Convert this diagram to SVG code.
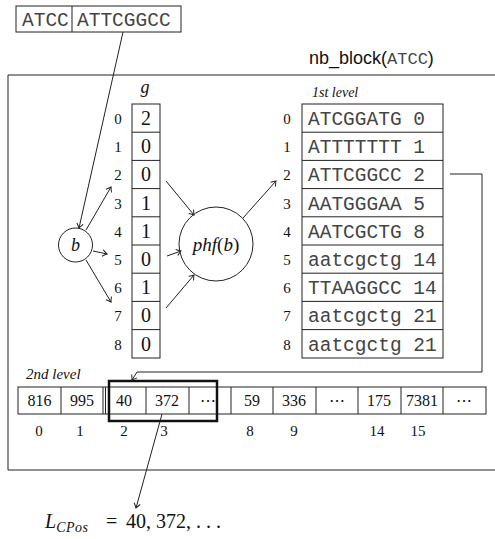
<svg xmlns="http://www.w3.org/2000/svg" width="495" height="539" viewBox="0 0 495 539">
<style>
  .ln{fill:none;stroke:#222;stroke-width:1}
  .cell{fill:#fff;stroke:#222;stroke-width:1}
  .thick{fill:none;stroke:#111;stroke-width:2.5}
  .ser{font-family:"Liberation Serif","DejaVu Serif",serif;fill:#111}
  .mono{font-family:"Liberation Mono","DejaVu Sans Mono",monospace;fill:#444}
  .sans{font-family:"Liberation Sans","DejaVu Sans",sans-serif;fill:#111}
  .it{font-style:italic}
  .idx{font-size:15px;text-anchor:middle}
  .gv{font-size:20px;text-anchor:middle}
  .sv{font-size:16px;text-anchor:middle}
  .lab{font-size:15px;text-anchor:middle}
  .tbl{font-size:19.5px}
  .arr{fill:none;stroke:#222;stroke-width:1;marker-end:url(#to)}
</style>
<defs>
  <marker id="to" viewBox="-6 -5 8 10" markerWidth="8" markerHeight="10" refX="0" refY="0" orient="auto" markerUnits="userSpaceOnUse">
    <path d="M-4.5,-3.2 Q-1.5,-0.8 0,0 Q-1.5,0.8 -4.5,3.2" fill="none" stroke="#222" stroke-width="1"/>
  </marker>
</defs>
<rect width="495" height="539" fill="#fff"/>

<g id="frame">
  <path class="ln" d="M500,75 H8 V470 H500"/>
</g>

<g id="title">
  <text class="sans" x="309" y="64" font-size="18">nb_block(<tspan class="mono" font-size="17" fill="#111">ATCC</tspan>)</text>
</g>

<g id="query">
  <rect class="cell" x="16" y="6" width="165" height="26"/>
  <line class="ln" x1="72" y1="6" x2="72" y2="32"/>
  <text class="mono tbl" x="22" y="26">ATCC</text>
  <text class="mono tbl" x="77" y="26">ATTCGGCC</text>
</g>

<g id="g-array">
  <text class="ser it" x="145" y="93" font-size="18" text-anchor="middle">g</text>
  <rect class="cell" x="132" y="104" width="28" height="254"/>
  <path class="ln" d="M132,132.2H160M132,160.4H160M132,188.6H160M132,216.8H160M132,245H160M132,273.2H160M132,301.4H160M132,329.6H160"/>
  <g class="ser idx">
    <text x="118" y="124">0</text><text x="118" y="152">1</text><text x="118" y="180">2</text>
    <text x="118" y="209">3</text><text x="118" y="237">4</text><text x="118" y="265">5</text>
    <text x="118" y="293">6</text><text x="118" y="321">7</text><text x="118" y="350">8</text>
  </g>
  <g class="ser gv">
    <text x="146" y="125">2</text><text x="146" y="153">0</text><text x="146" y="181">0</text>
    <text x="146" y="210">1</text><text x="146" y="238">1</text><text x="146" y="266">0</text>
    <text x="146" y="294">1</text><text x="146" y="322">0</text><text x="146" y="351">0</text>
  </g>
</g>

<g id="b">
  <circle class="ln" cx="75.5" cy="245" r="17"/>
  <text class="ser it" x="75.5" y="251" font-size="18" text-anchor="middle">b</text>
</g>

<g id="phf">
  <circle class="ln" cx="216" cy="244" r="37"/>
  <text class="ser" x="216" y="251" font-size="19" text-anchor="middle"><tspan class="it">phf</tspan>(<tspan class="it">b</tspan>)</text>
</g>

<g id="level1">
  <text class="ser it" x="312" y="97" font-size="14">1st level</text>
  <rect class="cell" x="302" y="104" width="141" height="254"/>
  <path class="ln" d="M302,132.2H443M302,160.4H443M302,188.6H443M302,216.8H443M302,245H443M302,273.2H443M302,301.4H443M302,329.6H443"/>
  <g class="ser idx">
    <text x="287" y="124">0</text><text x="287" y="152">1</text><text x="287" y="180">2</text>
    <text x="287" y="209">3</text><text x="287" y="237">4</text><text x="287" y="265">5</text>
    <text x="287" y="293">6</text><text x="287" y="321">7</text><text x="287" y="350">8</text>
  </g>
  <g class="mono tbl">
    <text x="308" y="125">ATCGGATG 0</text>
    <text x="308" y="153">ATTTTTTT 1</text>
    <text x="308" y="181">ATTCGGCC 2</text>
    <text x="308" y="210">AATGGGAA 5</text>
    <text x="308" y="238">AATCGCTG 8</text>
    <text x="308" y="266">aatcgctg 14</text>
    <text x="308" y="294">TTAAGGCC 14</text>
    <text x="308" y="322">aatcgctg 21</text>
    <text x="308" y="351">aatcgctg 21</text>
  </g>
</g>

<g id="level2">
  <text class="ser it" x="26" y="379" font-size="15">2nd level</text>
  <rect class="cell" x="18" y="387" width="468" height="27"/>
  <path class="ln" d="M61,387V414M103,387V414M105.5,387V414M146,387V414M189,387V414M231,387V414M273,387V414M316,387V414M358,387V414M401,387V414M443,387V414"/>
  <g class="ser sv">
    <text x="39.5" y="406">816</text><text x="82" y="406">995</text>
    <text x="124" y="406">40</text><text x="167" y="406">372</text>
    <text x="208" y="406">⋯</text>
    <text x="252" y="406">59</text><text x="294" y="406">336</text>
    <text x="337" y="406">⋯</text>
    <text x="379" y="406">175</text><text x="422" y="406">7381</text>
    <text x="464" y="406">⋯</text>
  </g>
  <g class="ser lab">
    <text x="39" y="436">0</text><text x="80" y="436">1</text>
    <text x="124" y="436">2</text><text x="164" y="436">3</text>
    <text x="250" y="436">8</text><text x="294" y="436">9</text>
    <text x="377" y="436">14</text><text x="418" y="436">15</text>
  </g>
  <rect class="thick" x="109" y="381" width="108" height="40"/>
</g>

<g id="lcpos">
  <text class="ser" x="45" y="528" font-size="20"><tspan class="it">L</tspan><tspan class="it" font-size="14" dy="4" letter-spacing="0.5">CPos</tspan><tspan x="106" dy="-4">=</tspan><tspan x="126">40, 372, . . .</tspan></text>
</g>

<g id="connectors">
  <path class="arr" d="M123,32 L79,228"/>
  <path class="arr" d="M86,230 L111,187"/>
  <path class="arr" d="M93,251 L107,254"/>
  <path class="arr" d="M86,260 L111,302"/>
  <path class="arr" d="M166,181 L194,215"/>
  <path class="arr" d="M167,256 L181,251"/>
  <path class="arr" d="M166,308 L194,275"/>
  <path class="arr" d="M243,218 L276,181"/>
  <path class="arr" d="M450,174 H482 V372 H137 L132,380"/>
  <path class="arr" d="M162,414 L136,508"/>
</g>
</svg>
